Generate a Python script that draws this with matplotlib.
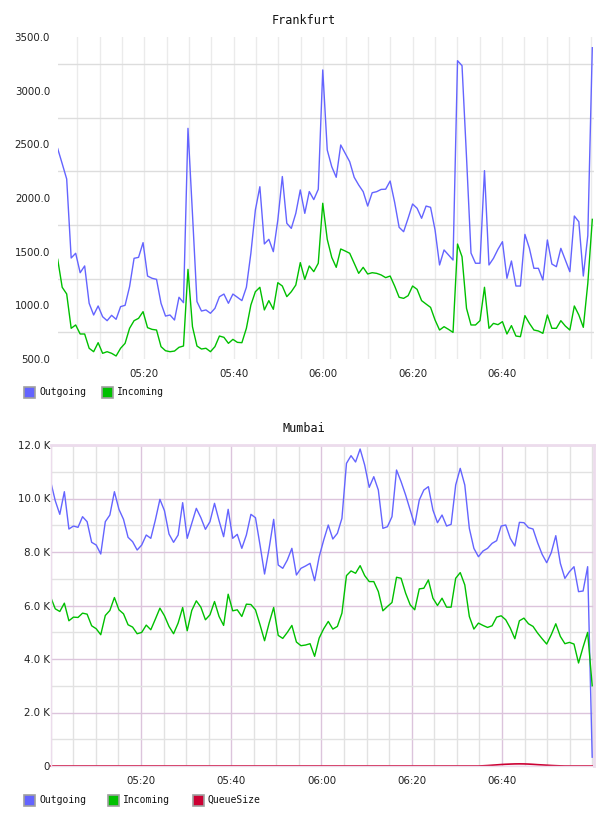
import numpy as np
import matplotlib
matplotlib.use("Agg")
import matplotlib.pyplot as plt
from matplotlib.patches import Rectangle
from matplotlib.ticker import MultipleLocator, FixedLocator

# time axis in minutes after 05:00, one sample per minute
fra_start, fra_end = 0.63, 120.2
mum_start, mum_end = 0.0, 120.0

fra_out = [2460, 2320, 2177, 1441, 1485, 1304, 1367, 1019, 910, 994,
           894, 857, 907, 870, 988, 1000, 1174, 1438, 1447, 1584,
           1273, 1252, 1242, 1019, 900, 910, 863, 1075, 1025, 2649,
           1850, 1035, 947, 957, 926, 972, 1080, 1105, 1019, 1105,
           1075, 1044, 1168, 1485, 1888, 2105, 1572, 1615, 1500, 1795,
           2200, 1764, 1717, 1857, 2075, 1857, 2060, 1985, 2081, 3193,
           2447, 2292, 2193, 2494, 2416, 2338, 2193, 2121, 2059, 1925,
           2049, 2059, 2080, 2082, 2158, 1960, 1727, 1686, 1811, 1944,
           1904, 1811, 1925, 1913, 1702, 1376, 1516, 1469, 1422, 3279,
           3233, 2380, 1487, 1392, 1392, 2255, 1376, 1438, 1522, 1593,
           1252, 1413, 1180, 1180, 1661, 1531, 1345, 1345, 1236, 1609,
           1385, 1360, 1531, 1422, 1313, 1832, 1779, 1273, 1650, 3400]
fra_in = [1429, 1168, 1106, 786, 817, 733, 733, 600, 568, 652,
          553, 568, 553, 528, 600, 646, 786, 857, 879, 941,
          792, 776, 770, 615, 577, 568, 574, 609, 621, 1335,
          801, 621, 593, 600, 568, 615, 714, 702, 646, 683,
          655, 652, 786, 1003, 1127, 1168, 957, 1044, 963, 1211,
          1180, 1081, 1127, 1189, 1398, 1242, 1367, 1314, 1392, 1951,
          1615, 1447, 1354, 1525, 1506, 1485, 1392, 1298, 1354, 1292,
          1304, 1298, 1283, 1258, 1273, 1180, 1075, 1065, 1090, 1180,
          1149, 1044, 1012, 981, 863, 770, 801, 776, 748, 1571,
          1453, 972, 817, 817, 857, 1168, 786, 832, 820, 848,
          733, 811, 714, 708, 904, 832, 770, 761, 739, 910,
          786, 786, 857, 807, 770, 994, 910, 795, 1205, 1801]

mum_out = [10628, 9918, 9408, 10254, 8859, 8971, 8922, 9320, 9133, 8362,
           8261, 7925, 9133, 9382, 10254, 9595, 9221, 8549, 8386, 8074,
           8261, 8635, 8511, 9196, 9968, 9545, 8672, 8362, 8635, 9844,
           8511, 9072, 9632, 9283, 8847, 9133, 9819, 9171, 8573, 9595,
           8511, 8660, 8137, 8635, 9408, 9283, 8261, 7177, 8137, 9221,
           7513, 7390, 7700, 8137, 7140, 7390, 7476, 7576, 6927, 7824,
           8448, 9009, 8485, 8697, 9258, 11314, 11601, 11364, 11850, 11252,
           10417, 10815, 10317, 8884, 8946, 9320, 11065, 10629, 10130, 9569,
           9009, 9943, 10317, 10442, 9569, 9096, 9383, 8971, 9034, 10504,
           11127, 10504, 8884, 8136, 7824, 8036, 8136, 8323, 8423, 8971,
           9009, 8510, 8224, 9108, 9096, 8909, 8859, 8348, 7912, 7600,
           7974, 8610, 7576, 7015, 7264, 7451, 6517, 6542, 7451, 330]
mum_in = [6311, 5876, 5776, 6087, 5429, 5565, 5553, 5714, 5677, 5242,
          5131, 4907, 5627, 5814, 6298, 5839, 5689, 5280, 5193, 4944,
          4994, 5267, 5093, 5491, 5901, 5615, 5218, 4944, 5342, 5925,
          5056, 5814, 6174, 5938, 5466, 5652, 6149, 5590, 5255, 6422,
          5801, 5839, 5590, 6050, 6037, 5839, 5280, 4683, 5342, 5925,
          4882, 4770, 4994, 5255, 4634, 4497, 4522, 4572, 4100, 4783,
          5131, 5404, 5118, 5218, 5714, 7118, 7292, 7205, 7490, 7118,
          6894, 6894, 6522, 5801, 5963, 6112, 7056, 7018, 6460, 6025,
          5839, 6621, 6646, 6956, 6273, 6000, 6273, 5938, 5938, 7018,
          7230, 6770, 5590, 5118, 5342, 5255, 5180, 5242, 5565, 5615,
          5466, 5155, 4758, 5429, 5528, 5317, 5218, 4969, 4758, 4559,
          4907, 5317, 4845, 4572, 4621, 4559, 3851, 4447, 4994, 3000]
mum_queue = ([0] * 95
             + [8, 18, 30, 42, 55, 65, 72, 78, 80, 78, 72, 62, 50, 40, 30, 20, 12, 5]
             + [0] * 7)

series_names = ["Outgoing", "Incoming", "QueueSize"]
series_colors = ["#6464ff", "#00c000", "#cc0033"]

xtick_pos = [20, 40, 60, 80, 100]
xtick_lbl = ["05:20", "05:40", "06:00", "06:20", "06:40"]
fra_yticks = [500, 1000, 1500, 2000, 2500, 3000, 3500]
fra_ylbl = ["500.0", "1000.0", "1500.0", "2000.0", "2500.0", "3000.0", "3500.0"]
mum_yticks = [0, 2000, 4000, 6000, 8000, 10000, 12000]
mum_ylbl = ["0", "2.0 K", "4.0 K", "6.0 K", "8.0 K", "10.0 K", "12.0 K"]

W, H = 608, 816
fig = plt.figure(figsize=(W / 100, H / 100), dpi=100)
tick_font = dict(family="DejaVu Sans", size=7.4)
mono = "DejaVu Sans Mono"


def box(l, t, r, b):
    return [l / W, 1 - b / H, (r - l) / W, (b - t) / H]


def legend(y, names, colors, xs):
    for name, col, x in zip(names, colors, xs):
        fig.add_artist(Rectangle((x / W, 1 - (y + 5.5) / H), 11 / W, 11 / H,
                                 transform=fig.transFigure, facecolor=col,
                                 edgecolor="#a0a0a0", lw=1.2))
        fig.text((x + 15) / W, 1 - y / H, name, va="center", ha="left",
                 family=mono, fontsize=7, color="#111111")


# ---- Frankfurt
ax1 = fig.add_axes(box(57.7, 37, 594, 359))
t1 = np.linspace(fra_start, fra_end, len(fra_out))
ax1.plot(t1, fra_out, color=series_colors[0], lw=1.0)
ax1.plot(t1, fra_in, color=series_colors[1], lw=1.0)
ax1.set_xlim(fra_start, 120.58)
ax1.set_ylim(500, 3500)
ax1.xaxis.set_major_locator(FixedLocator(xtick_pos))
ax1.xaxis.set_minor_locator(MultipleLocator(5))
ax1.set_xticklabels(xtick_lbl, **tick_font)
ax1.set_yticks(fra_yticks)
ax1.set_yticklabels(fra_ylbl, **tick_font)
ax1.yaxis.set_minor_locator(MultipleLocator(250))
ax1.grid(which="minor", axis="y", color="#dddddd", lw=1.0)
ax1.grid(which="both", axis="x", color="#ebebeb", lw=1.0)
ax1.set_axisbelow(True)
for s in ax1.spines.values():
    s.set_visible(False)
ax1.tick_params(which="both", length=0)
ax1.tick_params(axis="y", pad=5.5, colors="#222222")
ax1.tick_params(axis="x", pad=7, colors="#222222")
fig.text(0.5, 1 - 20.5 / H, "Frankfurt", ha="center", va="center",
         family=mono, fontsize=8.5, color="#111111")
legend(392.5, series_names[:2], series_colors[:2], [24, 102])

# ---- Mumbai
ax2 = fig.add_axes(box(50.7, 445, 594, 766))
t2 = np.linspace(mum_start, mum_end, len(mum_out))
ax2.plot(t2, mum_out, color=series_colors[0], lw=1.0)
ax2.plot(t2, mum_in, color=series_colors[1], lw=1.0)
ax2.plot(t2, mum_queue, color=series_colors[2], lw=1.2, clip_on=False)
ax2.set_xlim(mum_start, 120.4)
ax2.set_ylim(0, 12000)
ax2.xaxis.set_major_locator(FixedLocator(xtick_pos))
ax2.xaxis.set_minor_locator(MultipleLocator(5))
ax2.set_xticklabels(xtick_lbl, **tick_font)
ax2.set_yticks(mum_yticks)
ax2.set_yticklabels(mum_ylbl, **tick_font)
ax2.yaxis.set_minor_locator(MultipleLocator(1000))
ax2.grid(which="major", color="#dcc4dc", lw=1.0)
ax2.grid(which="minor", color="#e2e2e2", lw=1.0)
ax2.set_axisbelow(True)
for side, s in ax2.spines.items():
    s.set_color("#ecdcec")
    s.set_linewidth(1.0)
ax2.spines["top"].set_linewidth(2.0)
ax2.spines["right"].set_linewidth(2.0)
ax2.tick_params(which="both", length=0)
ax2.tick_params(axis="y", pad=0.5, colors="#222222")
ax2.tick_params(axis="x", pad=7, colors="#222222")
fig.text(0.5, 1 - 429 / H, "Mumbai", ha="center", va="center",
         family=mono, fontsize=8.5, color="#111111")
legend(800, series_names, series_colors, [24, 108, 193])

fig.savefig("out.png", dpi=100)
